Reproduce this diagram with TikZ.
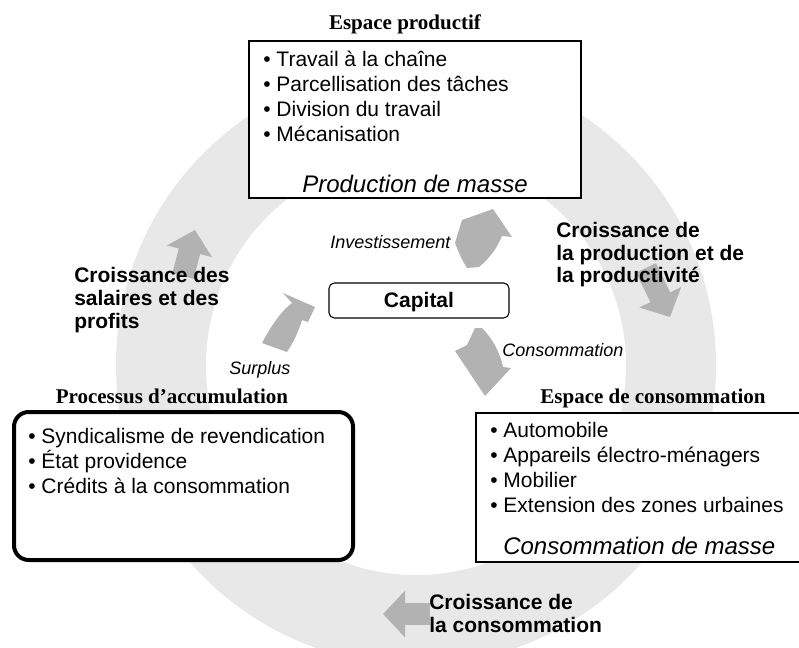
\documentclass[tikz,border=0pt]{standalone}
\usepackage{fontspec}
\setmainfont{Liberation Sans}
\newfontfamily\titleserif{Liberation Serif}
\usetikzlibrary{arrows.meta}

\definecolor{ringgray}{gray}{0.91}
\definecolor{arrowgray}{gray}{0.70}

\tikzset{
    boxtext/.style={anchor=base west, inner sep=0pt, font=\fontsize{15.75}{18.75}\selectfont},
    massetext/.style={anchor=base west, inner sep=0pt, font=\itshape\fontsize{18}{21}\selectfont},
    boxtitle/.style={anchor=base, inner sep=0pt, font=\titleserif\bfseries\fontsize{15.75}{18.75}\selectfont},
    growtext/.style={anchor=base west, inner sep=0pt, font=\bfseries\fontsize{15.75}{16.5}\selectfont},
    flowtext/.style={anchor=base west, inner sep=0pt, font=\itshape\fontsize{13.5}{16}\selectfont},
    growarrow/.style={arrowgray, line width=16.5pt, -{Triangle[length=16.5pt, width=34pt]}},
    flowarrow/.style={fill=arrowgray},
}

\begin{document}
\begin{tikzpicture}[x=0.75pt, y=-0.75pt]

    \useasboundingbox (0,0) rectangle (799,647);

    % Ring
    \fill[ringgray, even odd rule] (416,365) circle[radius=300] (416,365) circle[radius=210];

    % Growth arrows on the ring
    \coordinate (salS) at (183,276);
    \coordinate (salE) at (195,230);
    \draw[growarrow] (salS) -- (salE);

    \coordinate (prodS) at (646,268);
    \coordinate (prodE) at (670,317);
    \draw[growarrow] (prodS) -- (prodE);

    \coordinate (consS) at (430,614);
    \coordinate (consE) at (383,614);
    \draw[growarrow] (consS) -- (consE);

    % Flows around the capital
    \fill[flowarrow] (467,268) .. controls (461,258) .. (455,243) -- (462,220) -- (493,209) -- (512,237) -- (502,236)
        .. controls (497,248) and (490,258) .. (479,267) -- cycle;
    \fill[flowarrow] (475,328) .. controls (471,336) .. (467,345) -- (455,351) -- (485,396) -- (511,368) -- (503,367)
        .. controls (500,352) and (492,338) .. (482,328) -- cycle;
    \fill[flowarrow] (283,293) -- (315,307) -- (308,322) -- (302,320) .. controls (298,333) and (293,343) .. (287,352)
        -- (262,343) .. controls (270,328) and (280,312) .. (292,303) -- cycle;

    % Espace productif
    \node[boxtitle] (prodtitle) at (405,29) {Espace productif};
    \draw[line width=1.9pt, fill=white] (249,41) rectangle (581,198);
    \node[boxtext] (prod1) at (263,66) {• Travail à la chaîne};
    \node[boxtext] (prod2) at (263,91) {• Parcellisation des tâches};
    \node[boxtext] (prod3) at (263,116) {• Division du travail};
    \node[boxtext] (prod4) at (263,141) {• Mécanisation};
    \node[massetext] (prodmasse) at (302,192) {Production de masse};

    % Capital
    \draw[line width=0.8pt, fill=white, rounded corners=4pt] (329,283) rectangle (509,318);
    \node[anchor=base, inner sep=0pt, font=\bfseries\fontsize{15.75}{18}\selectfont] (capital) at (419,307) {Capital};

    % Processus d'accumulation
    \node[boxtitle] (acctitle) at (172,403) {Processus d’accumulation};
    \draw[line width=3pt, fill=white, rounded corners=11pt] (14,412) rectangle (353,560);
    \node[boxtext] (acc1) at (28,443) {• Syndicalisme de revendication};
    \node[boxtext] (acc2) at (28,468) {• État providence};
    \node[boxtext] (acc3) at (28,493) {• Crédits à la consommation};

    % Espace de consommation
    \node[boxtitle] (constitle) at (653,403) {Espace de consommation};
    \draw[line width=1.9pt, fill=white] (476,413) rectangle (806,562);
    \node[boxtext] (cons1) at (490,437) {• Automobile};
    \node[boxtext] (cons2) at (490,462) {• Appareils électro-ménagers};
    \node[boxtext] (cons3) at (490,487) {• Mobilier};
    \node[boxtext] (cons4) at (490,512) {• Extension des zones urbaines};
    \node[massetext] (consmasse) at (503,554) {Consommation de masse};

    % Growth labels
    \node[growtext] (sal1) at (74,282) {Croissance des};
    \node[growtext] (sal2) at (74,305) {salaires et des};
    \node[growtext] (sal3) at (74,328) {profits};

    \node[growtext] (prodg1) at (556,237) {Croissance de};
    \node[growtext] (prodg2) at (556,260) {la production et de};
    \node[growtext] (prodg3) at (556,282) {la productivité};

    \node[growtext] (consg1) at (429,609) {Croissance de};
    \node[growtext] (consg2) at (429,632) {la consommation};

    % Flow labels
    \node[flowtext] (invest) at (330,248) {Investissement};
    \node[flowtext] (surplus) at (229,374) {Surplus};
    \node[flowtext] (conso) at (502,356) {Consommation};

\end{tikzpicture}
\end{document}
